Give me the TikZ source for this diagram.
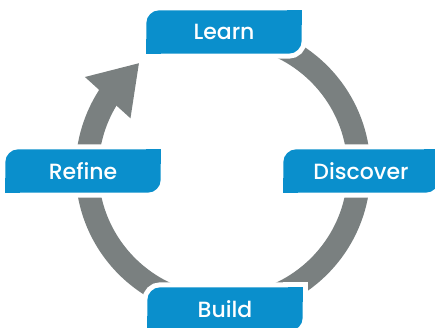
\documentclass[tikz,border=0pt]{standalone}
\usepackage{fontspec}
\newfontfamily\tagfont{Poppins}[UprightFont=* Medium]
\usetikzlibrary{arrows.meta, bending, backgrounds}
\definecolor{tagblue}{HTML}{0A8FCC}
\definecolor{ringgray}{HTML}{7A8080}

\begin{document}
\begin{tikzpicture}[
  x=1pt, y=1pt,
  tag/.style={
    minimum width=155pt, minimum height=43pt, inner sep=0pt,
    text=white, font=\tagfont\fontsize{22}{26}\selectfont
  },
  ring/.style={draw=ringgray, line width=23pt},
  halo/.style={draw=white, line width=10pt},
  plate/.style={fill=tagblue}
]
  \useasboundingbox (0,0) rectangle (435,327);

  \node[tag] (learn) at (224,295) {Learn};
  \node[tag] (discover) at (361,156) {Discover};
  \node[tag] (build) at (225,18) {Build};
  \node[tag] (refine) at (83,156) {Refine};
  \coordinate (hub) at (223,157);

  \begin{scope}[on background layer]
    % the cycle, ending in one head just below Learn
    \draw[ring, -{Triangle[length=47pt, width=58pt]}]
      ([shift={(90:136)}]hub) arc[start angle=90, end angle=-232, radius=136];
    % tag plates: top-left and bottom-right corners rounded
    \foreach \n in {learn,discover,build,refine} {
      \draw[halo, rounded corners=13pt] (\n.south west) rectangle (\n.north east);
      \draw[halo] (\n.south west) rectangle ++(15,15);
      \draw[halo] (\n.north east) rectangle ++(-15,-15);
      \fill[plate, rounded corners=13pt] (\n.south west) rectangle (\n.north east);
      \fill[plate] (\n.south west) rectangle ++(15,15);
      \fill[plate] (\n.north east) rectangle ++(-15,-15);
    }
  \end{scope}
\end{tikzpicture}
\end{document}
